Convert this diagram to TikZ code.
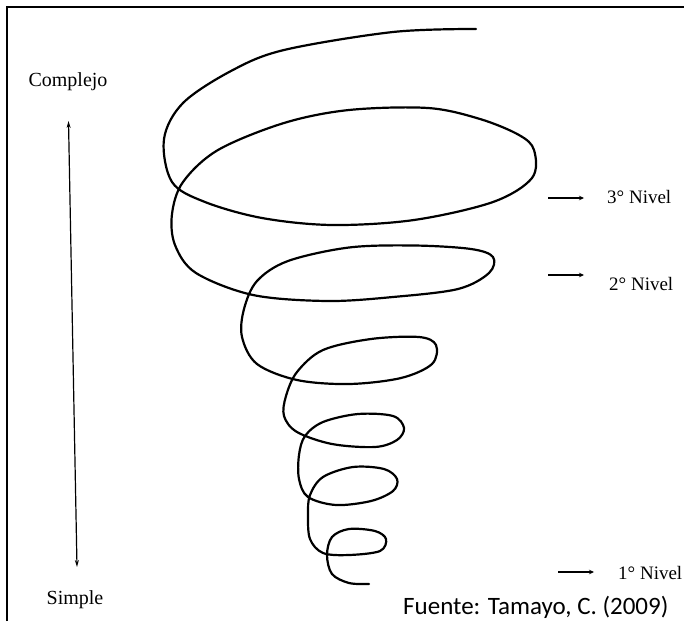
\documentclass[tikz,border=0pt]{standalone}
\usepackage{fontspec}
\setmainfont{Liberation Serif}
\newfontfamily\fuentefont{Carlito}
\usetikzlibrary{arrows.meta,positioning}

\begin{document}
\begin{tikzpicture}[x=1pt, y=-1pt,
  spiral/.style={line width=2.2pt, line join=round, line cap=round},
  levelarrow/.style={line width=1.6pt, -{Stealth[length=5pt,width=4.5pt]}},
  axisarrow/.style={line width=1.2pt, {Stealth[length=7pt,width=4pt]}-{Stealth[length=7pt,width=4pt]}},
  sidelabel/.style={font=\fontsize{20}{24}\selectfont, inner sep=0pt},
  levellabel/.style={font=\fontsize{19}{22}\selectfont, inner sep=0pt, anchor=west}
]
\fill[white] (0,0) rectangle (684,621);
\useasboundingbox (0,0) rectangle (684,621);
% frame
\draw[line width=1.6pt] (7,621) -- (7,7) -- (684,7);

% left scale
\node[sidelabel] (complejo) at (68,82) {Complejo};
\node[sidelabel] (simple) at (75,600) {Simple};
\coordinate (axtop) at (68.5,121);
\coordinate (axbot) at (77,567);
\draw[axisarrow] (axtop) -- (axbot);

% levels
\node[levellabel] (n3) at (607,197) {3° Nivel};
\node[levellabel] (n2) at (609,284) {2° Nivel};
\node[levellabel] (n1) at (618,573) {1° Nivel};
\coordinate (a3) at (548,198);
\coordinate (a2) at (548,275);
\coordinate (a1) at (558,572);
\draw[levelarrow] (a3) -- ++(36,0);
\draw[levelarrow] (a2) -- ++(36,0);
\draw[levelarrow] (a1) -- ++(36,0);

\node[font=\fuentefont\fontsize{25}{28}\selectfont, inner sep=0pt, anchor=west] (fuente) at (403,607) {Fuente: Tamayo, C. (2009)};

% spiral
\draw[spiral] plot[smooth, tension=0.55] coordinates {
  (476,29) (393,32) (284,50) (231,71) (183,103) (164,139) (172,182)
  (205,202) (262,218) (332,225) (414,220) (493,202) (532,178) (534,150)
  (519,135) (480,119) (428,108) (349,110) (284,123) (218,150) (183,182)
  (172,214) (175,245) (196,273) (253,295) (327,301) (393,297) (458,289)
  (489,273) (493,257) (471,249) (414,245.5) (349,247.5) (288,261) (257,281)
  (244,309) (242,337) (257,364) (297,380) (349,384) (401,378) (432,364)
  (436,345) (419,337) (371,339) (323,350) (297,372) (286,396) (284,416)
  (297,432) (332,444) (375,447) (397,440) (404,428) (393,416) (358,414)
  (323,422) (305,436) (299,455) (299,479) (308,497) (336,505) (371,501)
  (393,491) (397,479) (384,469) (353,467) (323,477) (310,495) (308,515)
  (310,539) (323,553) (349,555) (380,551) (386,539) (375,531) (349,529)
  (332,537) (327,555) (332,574) (349,583) (369,584)};
\end{tikzpicture}
\end{document}
